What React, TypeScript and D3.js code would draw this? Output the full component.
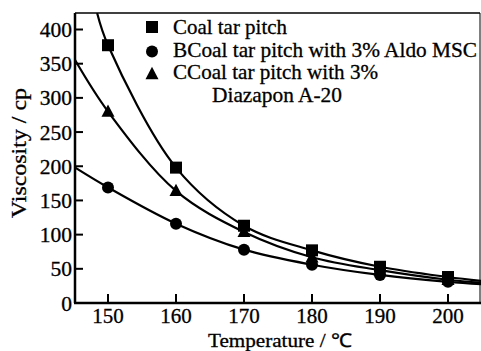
import React from "react";
import * as d3 from "d3";

const temps = [150, 160, 170, 180, 190, 200];
const coal = [377, 198, 113, 77, 53, 38];
const aldo = [169, 116, 78, 56, 41, 31];
const diaz = [280, 164, 104, 67, 48, 34];

// fitted curves (temperature, viscosity)
const coalCurveT = [148.4, 150, 160, 170, 180, 190, 200, 206];
const coalCurveV = [424, 377, 198, 113, 77, 53, 38, 31];
const aldoCurveT = [145, 150, 160, 170, 180, 190, 200, 206];
const aldoCurveV = [199, 169, 116, 78, 56, 41, 31, 27];
const diazCurveT = [145, 150, 160, 170, 180, 190, 200, 206];
const diazCurveV = [358, 280, 164, 104, 67, 48, 34, 29];

const xTicks = [150, 160, 170, 180, 190, 200];
const yTicks = [0, 50, 100, 150, 200, 250, 300, 350, 400];
const legendLabels = [
  "Coal tar pitch",
  "BCoal tar pitch with 3% Aldo MSC",
  "CCoal tar pitch with 3%",
];
const legendExtra = "Diazapon A-20";

const W = 481;
const H = 351;
const L = 75, R = 480, T = 13, B = 303;

export default function App() {
  const x = d3.scaleLinear().domain([145, 205]).range([74, 482]);
  const y = d3.scaleLinear().domain([0, 400]).range([303, 29.5]);
  const font = "'Liberation Serif', 'Times New Roman', serif";
  const line = d3
    .line<[number, number]>()
    .x((d) => x(d[0]))
    .y((d) => y(d[1]))
    .curve(d3.curveCatmullRom.alpha(0.5));
  const mk = (ts: number[], vs: number[]) =>
    line(ts.map((t, i) => [t, vs[i]] as [number, number])) || "";
  const sq = 12;
  const tri = (cx: number, cy: number, s = 13) =>
    `M${cx},${cy - s * 0.55}L${cx + s / 2},${cy + s * 0.4}L${cx - s / 2},${cy + s * 0.4}Z`;
  const legendLens = [114, 304, 205];
  const txt = { fontFamily: font, stroke: "#000", strokeWidth: 0.3 };

  return (
    <svg
      width={W}
      height={H}
      style={{ position: "absolute", left: 0, top: 0, background: "#fff" }}
    >
      <defs>
        <clipPath id="plot">
          <rect x={L} y={T} width={R - L + 5} height={B - T} />
        </clipPath>
      </defs>
      <g clipPath="url(#plot)" fill="none" stroke="#000" strokeWidth={2.2}>
        <path d={mk(coalCurveT, coalCurveV)} />
        <path d={mk(aldoCurveT, aldoCurveV)} />
        <path d={mk(diazCurveT, diazCurveV)} />
      </g>
      {temps.map((t, i) => (
        <g key={t}>
          <rect x={x(t) - sq / 2} y={y(coal[i]) - sq / 2} width={sq} height={sq} fill="#000" />
          <circle cx={x(t)} cy={y(aldo[i])} r={6} fill="#000" />
          <path d={tri(x(t), y(diaz[i]))} fill="#000" />
        </g>
      ))}
      {/* frame */}
      <line x1={L} x2={L} y1={T} y2={B} stroke="#000" strokeWidth={2.5} />
      <line x1={L - 1} x2={W} y1={B} y2={B} stroke="#000" strokeWidth={2.5} />
      <line x1={L} x2={R} y1={T} y2={T} stroke="#000" strokeWidth={1.5} />
      <line x1={R} x2={R} y1={T} y2={B} stroke="#000" strokeWidth={1} />
      {yTicks.map((v) => (
        <g key={v}>
          <line x1={L} x2={L + 8} y1={y(v)} y2={y(v)} stroke="#000" strokeWidth={2} />
          <text x={72} y={y(v)} dy="0.35em" textAnchor="end" fontSize={21.5} {...txt}>
            {v}
          </text>
        </g>
      ))}
      {xTicks.map((v) => (
        <g key={v}>
          <line x1={x(v)} x2={x(v)} y1={B} y2={B - 9} stroke="#000" strokeWidth={2} />
          <text x={x(v)} y={323} textAnchor="middle" fontSize={21} {...txt}>
            {v}
          </text>
        </g>
      ))}
      <text
        transform="translate(26,153) rotate(-90)"
        textAnchor="middle"
        fontSize={21}
        textLength={130}
        lengthAdjust="spacingAndGlyphs"
        {...txt}
      >
        Viscosity / cp
      </text>
      <text
        x={280}
        y={346.5}
        textAnchor="middle"
        fontSize={19}
        textLength={144}
        lengthAdjust="spacingAndGlyphs"
        {...txt}
      >
        Temperature / ℃
      </text>
      {/* legend */}
      <rect x={152 - sq / 2} y={27 - sq / 2} width={sq} height={sq} fill="#000" />
      <circle cx={152} cy={51.5} r={6} fill="#000" />
      <path d={tri(152, 74)} fill="#000" />
      {legendLabels.map((s, i) => (
        <text
          key={s}
          x={173}
          y={34 + i * 22.5}
          fontSize={21}
          textLength={legendLens[i]}
          lengthAdjust="spacingAndGlyphs"
          {...txt}
        >
          {s}
        </text>
      ))}
      <text
        x={212}
        y={101.5}
        fontSize={21}
        textLength={130}
        lengthAdjust="spacingAndGlyphs"
        {...txt}
      >
        {legendExtra}
      </text>
    </svg>
  );
}
